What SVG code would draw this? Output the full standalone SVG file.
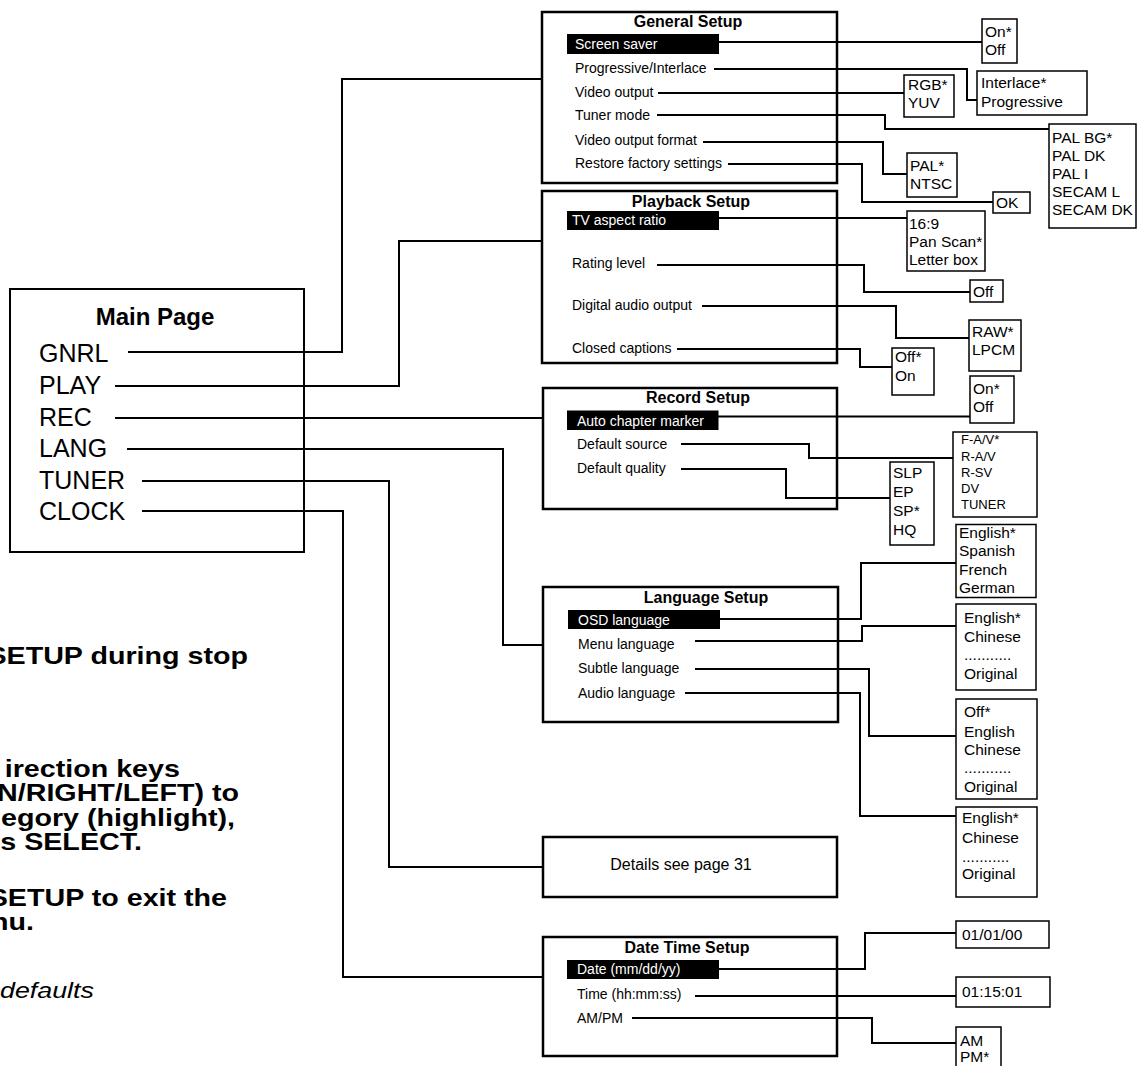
<svg xmlns="http://www.w3.org/2000/svg" width="1142" height="1066" viewBox="0 0 1142 1066">
<style>
text{font-family:"Liberation Sans",Arial,sans-serif;fill:#000}
.box{fill:#fff;stroke:#000;stroke-width:2.5}
.mbox{fill:#fff;stroke:#000;stroke-width:2}
.opt{fill:#fff;stroke:#000;stroke-width:1.5}
.ln{fill:none;stroke:#000;stroke-width:2}
.ttl{font-size:16px;font-weight:bold;text-anchor:middle}
.it{font-size:14px}
.hl{fill:#000}
.hlt{font-size:14px;fill:#fff}
.o{font-size:15.5px}
.s{font-size:13px}
.mt{font-size:24px;font-weight:bold;text-anchor:middle}
.mi{font-size:25px}
.note{font-size:23.5px;font-weight:bold;text-anchor:end}
.noti{font-size:22px;font-style:italic;text-anchor:end}
</style>
<rect width="1142" height="1066" fill="#fff"/>

<g id="main-page">
<rect class="mbox" x="10" y="289" width="294" height="263"/>
<text class="mt" x="155" y="325">Main Page</text>
<text class="mi" x="39" y="362">GNRL</text>
<text class="mi" x="39" y="394">PLAY</text>
<text class="mi" x="39" y="426">REC</text>
<text class="mi" x="39" y="457">LANG</text>
<text class="mi" x="39" y="489">TUNER</text>
<text class="mi" x="39" y="520">CLOCK</text>
</g>

<g id="general-setup">
<rect class="box" x="542" y="12" width="295" height="171"/>
<text class="ttl" x="688" y="27">General Setup</text>
<rect class="hl" x="567" y="34" width="152" height="20"/>
<text class="hlt" x="575" y="49">Screen saver</text>
<text class="it" x="575" y="73">Progressive/Interlace</text>
<text class="it" x="575" y="97">Video output</text>
<text class="it" x="575" y="120">Tuner mode</text>
<text class="it" x="575" y="145">Video output format</text>
<text class="it" x="575" y="168">Restore factory settings</text>
</g>

<g id="playback-setup">
<rect class="box" x="542" y="191" width="295" height="172"/>
<text class="ttl" x="691" y="207">Playback Setup</text>
<rect class="hl" x="567" y="211" width="152" height="19"/>
<text class="hlt" x="572" y="225">TV aspect ratio</text>
<text class="it" x="572" y="268">Rating level</text>
<text class="it" x="572" y="310">Digital audio output</text>
<text class="it" x="572" y="353">Closed captions</text>
</g>

<g id="record-setup">
<rect class="box" x="543" y="388" width="294" height="121"/>
<text class="ttl" x="698" y="403">Record Setup</text>
<rect class="hl" x="567" y="410.5" width="151.5" height="19.5"/>
<text class="hlt" x="577" y="425.5">Auto chapter marker</text>
<text class="it" x="577" y="449">Default source</text>
<text class="it" x="577" y="473">Default quality</text>
</g>

<g id="language-setup">
<rect class="box" x="543" y="587" width="295" height="135"/>
<text class="ttl" x="706" y="603">Language Setup</text>
<rect class="hl" x="568" y="610" width="152" height="19"/>
<text class="hlt" x="578" y="625">OSD language</text>
<text class="it" x="578" y="649">Menu language</text>
<text class="it" x="578" y="673">Subtle language</text>
<text class="it" x="578" y="698">Audio language</text>
</g>

<g id="tuner-details">
<rect class="box" x="543" y="837" width="294" height="60"/>
<text class="it" x="681" y="870" style="font-size:16px;text-anchor:middle">Details see page 31</text>
</g>

<g id="date-time-setup">
<rect class="box" x="543" y="937" width="294" height="119"/>
<text class="ttl" x="687" y="953">Date Time Setup</text>
<rect class="hl" x="567" y="960" width="152" height="19"/>
<text class="hlt" x="577" y="974">Date (mm/dd/yy)</text>
<text class="it" x="577" y="999">Time (hh:mm:ss)</text>
<text class="it" x="577" y="1023">AM/PM</text>
</g>

<g id="connectors">
<polyline class="ln" points="128,352 342,352 342,79 542,79"/>
<polyline class="ln" points="115,386 399,386 399,241 542,241"/>
<polyline class="ln" points="115,418 543,418"/>
<polyline class="ln" points="127,449 503,449 503,645 543,645"/>
<polyline class="ln" points="142,481 389,481 389,867 543,867"/>
<polyline class="ln" points="142,511 343,511 343,977 543,977"/>

<polyline class="ln" points="719,42 982,42"/>
<polyline class="ln" points="714,69 967,69 967,100 977,100"/>
<polyline class="ln" points="658,93 904,93"/>
<polyline class="ln" points="657,115 885,115 885,129 1049,129"/>
<polyline class="ln" points="703,142 883,142 883,174 907,174"/>
<polyline class="ln" points="728,164 862,164 862,202 993,202"/>

<polyline class="ln" points="719,218 907,218"/>
<polyline class="ln" points="657,265 864,265 864,292 970,292"/>
<polyline class="ln" points="702,306 896,306 896,338 969,338"/>
<polyline class="ln" points="677,349 860,349 860,367 892,367"/>

<polyline class="ln" points="718,416.5 970,416.5"/>
<polyline class="ln" points="681,444 809,444 809,458 953,458"/>
<polyline class="ln" points="681,469 786,469 786,498 890,498"/>

<polyline class="ln" points="720,619 861,619 861,563 956,563"/>
<polyline class="ln" points="695,641 862,641 862,626 956,626"/>
<polyline class="ln" points="695,669 869,669 869,736 956,736"/>
<polyline class="ln" points="685,693 860,693 860,816 956,816"/>

<polyline class="ln" points="719,969 865,969 865,933 956,933"/>
<polyline class="ln" points="695,996 956,996"/>
<polyline class="ln" points="632,1018 872,1018 872,1043 956,1043"/>
</g>

<g id="opt-screen-saver">
<rect class="opt" x="982" y="19" width="35" height="44"/>
<text class="o" x="985" y="37">On*</text>
<text class="o" x="985" y="55">Off</text>
</g>
<g id="opt-progressive">
<rect class="opt" x="977" y="71" width="110" height="44"/>
<text class="o" x="981" y="88">Interlace*</text>
<text class="o" x="981" y="107">Progressive</text>
</g>
<g id="opt-video-output">
<rect class="opt" x="904" y="75" width="50" height="42"/>
<text class="o" x="908" y="90">RGB*</text>
<text class="o" x="908" y="108">YUV</text>
</g>
<g id="opt-tuner-mode">
<rect class="opt" x="1049" y="124" width="87" height="104"/>
<text class="o" x="1052" y="143">PAL BG*</text>
<text class="o" x="1052" y="161">PAL DK</text>
<text class="o" x="1052" y="179">PAL I</text>
<text class="o" x="1052" y="197">SECAM L</text>
<text class="o" x="1052" y="215">SECAM DK</text>
</g>
<g id="opt-video-format">
<rect class="opt" x="907" y="153" width="50" height="44"/>
<text class="o" x="910" y="171">PAL*</text>
<text class="o" x="910" y="189">NTSC</text>
</g>
<g id="opt-restore">
<rect class="opt" x="993" y="192" width="37" height="21"/>
<text class="o" x="996" y="208">OK</text>
</g>
<g id="opt-aspect">
<rect class="opt" x="907" y="211" width="78" height="60"/>
<text class="o" x="909" y="229">16:9</text>
<text class="o" x="909" y="247">Pan Scan*</text>
<text class="o" x="909" y="265">Letter box</text>
</g>
<g id="opt-rating">
<rect class="opt" x="970" y="280" width="33" height="22"/>
<text class="o" x="973" y="297">Off</text>
</g>
<g id="opt-digital-audio">
<rect class="opt" x="969" y="320" width="52" height="51"/>
<text class="o" x="972" y="337">RAW*</text>
<text class="o" x="972" y="355">LPCM</text>
</g>
<g id="opt-captions">
<rect class="opt" x="892" y="348" width="42" height="47"/>
<text class="o" x="895" y="362">Off*</text>
<text class="o" x="895" y="381">On</text>
</g>
<g id="opt-chapter">
<rect class="opt" x="970" y="376" width="44" height="47"/>
<text class="o" x="973" y="394">On*</text>
<text class="o" x="973" y="412">Off</text>
</g>
<g id="opt-source">
<rect class="opt" x="953" y="432" width="84" height="85"/>
<text class="s" x="961" y="444">F-A/V*</text>
<text class="s" x="961" y="461">R-A/V</text>
<text class="s" x="961" y="477">R-SV</text>
<text class="s" x="961" y="493">DV</text>
<text class="s" x="961" y="509">TUNER</text>
</g>
<g id="opt-quality">
<rect class="opt" x="890" y="462" width="44" height="83"/>
<text class="o" x="893" y="478">SLP</text>
<text class="o" x="893" y="497">EP</text>
<text class="o" x="893" y="516">SP*</text>
<text class="o" x="893" y="535">HQ</text>
</g>
<g id="opt-osd">
<rect class="opt" x="956" y="524.5" width="80" height="73"/>
<text class="o" x="959" y="538">English*</text>
<text class="o" x="959" y="556">Spanish</text>
<text class="o" x="959" y="575">French</text>
<text class="o" x="959" y="593">German</text>
</g>
<g id="opt-menu-lang">
<rect class="opt" x="956" y="604" width="80" height="86"/>
<text class="o" x="964" y="623">English*</text>
<text class="o" x="964" y="642">Chinese</text>
<text class="o" x="964" y="660">...........</text>
<text class="o" x="964" y="679">Original</text>
</g>
<g id="opt-subtitle-lang">
<rect class="opt" x="956" y="699" width="81" height="100"/>
<text class="o" x="964" y="717">Off*</text>
<text class="o" x="964" y="737">English</text>
<text class="o" x="964" y="755">Chinese</text>
<text class="o" x="964" y="773">...........</text>
<text class="o" x="964" y="792">Original</text>
</g>
<g id="opt-audio-lang">
<rect class="opt" x="956" y="807" width="81" height="90"/>
<text class="o" x="962" y="823">English*</text>
<text class="o" x="962" y="843">Chinese</text>
<text class="o" x="962" y="862">...........</text>
<text class="o" x="962" y="879">Original</text>
</g>
<g id="opt-date">
<rect class="opt" x="956" y="921" width="93" height="27"/>
<text class="o" x="962" y="940">01/01/00</text>
</g>
<g id="opt-time">
<rect class="opt" x="956" y="977" width="94" height="30"/>
<text class="o" x="962" y="997">01:15:01</text>
</g>
<g id="opt-ampm">
<rect class="opt" x="956" y="1027" width="45" height="45"/>
<text class="o" x="960" y="1046">AM</text>
<text class="o" x="960" y="1062">PM*</text>
</g>

<g id="instructions" transform="scale(1.22,1)">
<text class="note" x="203.3" y="664">SETUP during stop</text>
<text class="note" x="147.5" y="777">irection keys</text>
<text class="note" x="195.9" y="801">N/RIGHT/LEFT) to</text>
<text class="note" x="192.6" y="826">egory (highlight),</text>
<text class="note" x="116.4" y="850">s SELECT.</text>
<text class="note" x="186.1" y="906">SETUP to exit the</text>
<text class="note" x="27.9" y="930">nu.</text>
<text class="noti" x="77" y="998">defaults</text>
</g>
</svg>
